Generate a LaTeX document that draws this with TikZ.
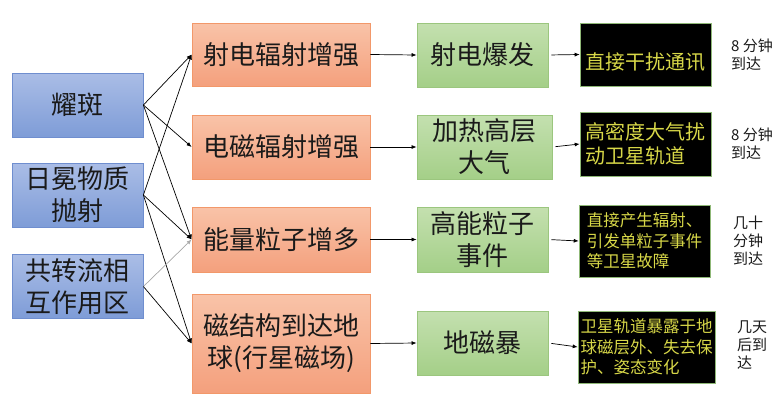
\documentclass[tikz,border=0pt]{standalone}
\usepackage{fontspec}
\setmainfont{Noto Sans CJK SC}
\usetikzlibrary{arrows.meta}

\definecolor{bluetop}{HTML}{AABDE6}
\definecolor{bluebot}{HTML}{7E9CD7}
\definecolor{blueline}{HTML}{6F8ECF}
\definecolor{orangetop}{HTML}{F9C3A8}
\definecolor{orangebot}{HTML}{F4A07D}
\definecolor{orangeline}{HTML}{F2986A}
\definecolor{greentop}{HTML}{C4E0AF}
\definecolor{greenbot}{HTML}{A4CF88}
\definecolor{greenline}{HTML}{9BC67E}
\definecolor{harmline}{HTML}{8FB877}
\definecolor{harmtext}{HTML}{D8D848}
\definecolor{textdark}{HTML}{1A1A1A}
\definecolor{linkgray}{HTML}{A8A8A8}

\begin{document}
\begin{tikzpicture}[x=1pt,y=-1pt,
		srcbox/.style={draw=blueline, line width=0.8pt, top color=bluetop, bottom color=bluebot,
			minimum width=131, minimum height=64, inner sep=0pt, align=center, text=textdark,
			font=\fontsize{26}{32}\selectfont},
		effbox/.style={draw=orangeline, line width=0.8pt, top color=orangetop, bottom color=orangebot,
			minimum width=178, minimum height=64, inner sep=0pt, align=center, text=textdark,
			font=\fontsize{26}{32}\selectfont},
		resbox/.style={draw=greenline, line width=0.8pt, top color=greentop, bottom color=greenbot,
			minimum width=131, minimum height=64, inner sep=0pt, align=center, text=textdark,
			font=\fontsize{26}{32}\selectfont},
		harmbox/.style={draw=harmline, line width=0.6pt, fill=black,
			minimum width=131, minimum height=64, inner sep=0pt, align=left, text=harmtext,
			font=\fontsize{20}{24}\selectfont},
		harmsmall/.style={font=\fontsize{16.5}{20.5}\selectfont},
		note/.style={anchor=west, inner sep=0pt, align=left, text=textdark,
			font=\fontsize{15}{18}\selectfont},
		link/.style={-{Latex[length=5pt,width=4pt]}, line width=0.7pt}]

		\useasboundingbox ( 0, 0 ) rectangle ( 782, 402 );

		% источники
		\node [srcbox] (yb) at ( 77.5, 105 ) {耀斑};
		\node [srcbox] (rm) at ( 77.5, 195 ) {日冕物质\\抛射};
		\node [srcbox] (gzl) at ( 77.5, 286.5 ) {共转流相\\互作用区};

		% следствия
		\node [effbox, minimum height=63] (sd) at ( 281, 54.5 ) {射电辐射增强};
		\node [effbox] (dc) at ( 281, 147 ) {电磁辐射增强};
		\node [effbox, minimum height=65] (nl) at ( 281, 239.5 ) {能量粒子增多};
		\node [effbox, minimum height=99] (cj) at ( 281, 343.5 ) {磁结构到达地\\球(行星磁场)};

		% явления
		\node [resbox] (bf) at ( 482.5, 55 ) {射电爆发};
		\node [resbox, minimum width=135] (jr) at ( 484.5, 147 ) {加热高层\\大气};
		\node [resbox, minimum height=65] (gn) at ( 482.5, 239.5 ) {高能粒子\\事件};
		\node [resbox] (dcb) at ( 482.5, 343 ) {地磁暴};

		% воздействие на спутники
		\node [harmbox, minimum height=63, text height=33pt, text depth=3pt] (tx) at ( 645.5, 54.5 ) {直接干扰通讯};
		\node [harmbox] (gd) at ( 645.5, 144 ) {高密度大气扰\\动卫星轨道};
		\node [harmbox, harmsmall, minimum height=72] (gz) at ( 644.5, 241 ) {直接产生辐射、\\引发单粒子事件\\等卫星故障};
		\node [harmbox, harmsmall, minimum width=137, minimum height=72] (wx) at ( 646.5, 347 ) {卫星轨道暴露于地\\球磁层外、失去保\\护、姿态变化};

		% время прихода
		\node [note] (t1) at ( 731, 55 ) {8 分钟\\到达};
		\node [note] (t2) at ( 731, 144 ) {8 分钟\\到达};
		\node [note] (t3) at ( 733, 241 ) {几十\\分钟\\到达};
		\node [note] (t4) at ( 737, 345 ) {几天\\后到\\达};

		% связи источников
		\draw [link] (yb.east) -- (sd.west);
		\draw [link] (yb.east) -- (dc.west);
		\draw [link] (yb.east) -- (nl.west);
		\draw [link] (rm.east) -- (sd.west);
		\draw [link] (rm.east) -- (nl.west);
		\draw [link] (rm.east) -- (cj.west);
		\draw [link, draw=linkgray] (gzl.east) -- (nl.west);
		\draw [link] (gzl.east) -- (cj.west);

		% цепочки
		\draw [link] (sd.east) -- (bf.west);
		\draw [link] (dc.east) -- (jr.west);
		\draw [link] (nl.east) -- (gn.west);
		\draw [link] (cj.east) -- (dcb.west);
		\draw [link, shorten <=3pt] (bf.east) -- (tx.west);
		\draw [link, shorten <=3pt] (jr.east) -- (gd.west);
		\draw [link, shorten <=3pt] (gn.east) -- (gz.west);
		\draw [link, shorten <=3pt] (dcb.east) -- (wx.west);
	\end{tikzpicture}
\end{document}
